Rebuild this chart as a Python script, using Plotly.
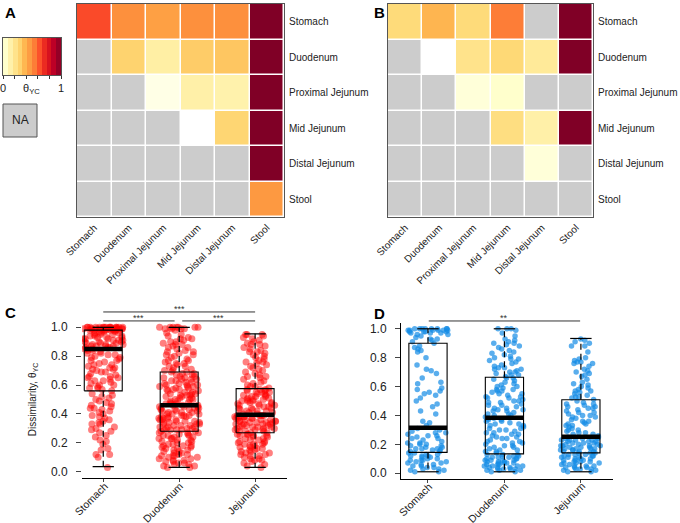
import plotly.graph_objects as go

FONT = "Liberation Sans, Arial, sans-serif"
W, H = 680, 523

regions = ["Stomach", "Duodenum", "Proximal Jejunum", "Mid Jejunum", "Distal Jejunum", "Stool"]
groups = ["Stomach", "Duodenum", "Jejunum"]
N = None

theta_A = [
    [0.64, 0.50, 0.45, 0.50, 0.50, 1.00],
    [N, 0.29, 0.14, 0.31, 0.33, 1.00],
    [N, N, 0.02, 0.13, 0.12, 1.00],
    [N, N, N, 0.00, 0.28, 1.00],
    [N, N, N, N, N, 1.00],
    [N, N, N, N, N, 0.47],
]
theta_B = [
    [0.26, 0.38, 0.26, 0.54, N, 1.00],
    [N, 0.00, 0.21, 0.27, 0.17, 1.00],
    [N, N, 0.03, 0.04, N, N],
    [N, N, N, 0.24, 0.13, 1.00],
    [N, N, N, N, 0.03, N],
    [N, N, N, N, N, N],
]

# colour key bands
key_edges = [0, 0.083, 0.167, 0.25, 0.333, 0.417, 0.5, 0.583, 0.667, 0.75, 0.833, 0.917, 1.0]
key_levels = [0.04, 0.125, 0.21, 0.29, 0.375, 0.46, 0.54, 0.625, 0.71, 0.79, 0.875, 0.96]

# box statistics (Stomach, Duodenum, Jejunum)
C_q1 = [0.56, 0.28, 0.27]
C_med = [0.85, 0.46, 0.395]
C_q3 = [0.98, 0.69, 0.575]
C_lo = [0.035, 0.03, 0.03]
C_hi = [1.00, 1.00, 0.955]

D_q1 = [0.144, 0.134, 0.141]
D_med = [0.315, 0.384, 0.252]
D_q3 = [0.90, 0.664, 0.509]
D_lo = [0.01, 0.01, 0.01]
D_hi = [1.00, 1.00, 0.933]

C_stomach = [1.00, 0.99, 0.98, 1.00, 0.97, 0.99, 1.00, 0.98, 0.99, 1.00, 0.99, 0.97, 1.00, 0.98, 1.00, 0.99, 0.99, 1.00, 0.98, 0.99,
             1.00, 0.98, 0.99, 1.00, 0.99, 0.98, 1.00, 0.99, 1.00, 0.97, 0.99, 1.00, 0.98, 0.99, 1.00, 0.99, 0.98, 1.00, 0.99, 1.00,
             0.96, 0.93, 0.88, 0.91, 0.85, 0.94, 0.87, 0.90, 0.95, 0.86, 0.92, 0.89, 0.96, 0.84, 0.93, 0.87, 0.91, 0.85, 0.88, 0.94,
             0.86, 0.90, 0.95, 0.83, 0.92, 0.89, 0.87, 0.93, 0.85, 0.96, 0.91, 0.86, 0.88, 0.94, 0.90, 0.84, 0.92, 0.87, 0.95, 0.89,
             0.81, 0.74, 0.66, 0.79, 0.58, 0.71, 0.63, 0.77, 0.69, 0.60, 0.82, 0.73, 0.65, 0.57, 0.76, 0.68, 0.80, 0.62, 0.72, 0.59,
             0.78, 0.64, 0.70, 0.56, 0.75, 0.67, 0.81, 0.61, 0.74, 0.69, 0.58, 0.77, 0.63, 0.72, 0.66, 0.79, 0.60, 0.71, 0.82, 0.65,
             0.54, 0.47, 0.39, 0.51, 0.33, 0.44, 0.28, 0.49, 0.36, 0.42, 0.25, 0.53, 0.31, 0.46, 0.38, 0.22, 0.50, 0.35, 0.41, 0.29,
             0.45, 0.19, 0.37, 0.52, 0.27, 0.43, 0.33, 0.48, 0.24, 0.40, 0.16, 0.34, 0.12, 0.21, 0.30, 0.10, 0.15, 0.12, 0.44, 0.03]
C_duodenum = [1.00, 0.99, 1.00, 1.00, 0.99, 1.00, 0.98, 1.00, 0.99, 1.00, 1.00, 0.99,
              0.94, 0.88, 0.81, 0.73, 0.91, 0.85, 0.77, 0.70, 0.96, 0.83, 0.79, 0.92, 0.74, 0.87, 0.71, 0.90, 0.82, 0.76,
              0.93, 0.86, 0.72, 0.80, 0.89, 0.75, 0.84, 0.95, 0.78, 0.69, 0.88, 0.81, 0.92, 0.73, 0.86, 0.77, 0.83, 0.70, 0.90, 0.75,
              0.68, 0.61, 0.54, 0.47, 0.66, 0.59, 0.52, 0.64, 0.57, 0.50, 0.67, 0.60, 0.53, 0.48, 0.63, 0.56, 0.49, 0.65, 0.58, 0.51,
              0.62, 0.55, 0.47, 0.69, 0.60, 0.53, 0.46, 0.66, 0.59, 0.52, 0.64, 0.57, 0.49, 0.61, 0.54, 0.68, 0.58, 0.50, 0.63, 0.55,
              0.47, 0.65, 0.56, 0.51, 0.62, 0.48, 0.67, 0.59, 0.53, 0.46, 0.60, 0.54, 0.64, 0.50, 0.57,
              0.45, 0.39, 0.33, 0.29, 0.43, 0.37, 0.31, 0.44, 0.36, 0.30, 0.42, 0.35, 0.28, 0.40, 0.34, 0.45, 0.38, 0.32, 0.41, 0.29,
              0.36, 0.44, 0.31, 0.39, 0.33, 0.43, 0.30, 0.37, 0.42, 0.35, 0.28, 0.40, 0.34, 0.45, 0.32, 0.38, 0.29, 0.41, 0.36, 0.44,
              0.31, 0.39, 0.33, 0.43, 0.30, 0.37, 0.42, 0.35, 0.40, 0.34, 0.38, 0.32, 0.41, 0.46, 0.29,
              0.27, 0.21, 0.14, 0.08, 0.25, 0.18, 0.11, 0.05, 0.23, 0.16, 0.09, 0.26, 0.19, 0.12, 0.04, 0.22, 0.15, 0.07, 0.24, 0.17,
              0.10, 0.27, 0.20, 0.13, 0.06, 0.23, 0.16, 0.09, 0.25, 0.18, 0.11, 0.03, 0.21, 0.14, 0.07, 0.26, 0.19, 0.12, 0.05, 0.22,
              0.15, 0.08, 0.24, 0.17, 0.10, 0.27, 0.20, 0.13, 0.04, 0.23, 0.06, 0.18, 0.11, 0.25, 0.03]
C_jejunum = [0.95, 0.91, 0.86, 0.80, 0.74, 0.68, 0.62, 0.94, 0.88, 0.83, 0.77, 0.71, 0.65, 0.59, 0.93, 0.87, 0.81, 0.75, 0.69, 0.63,
             0.58, 0.90, 0.84, 0.78, 0.72, 0.66, 0.60, 0.95, 0.89, 0.82, 0.76, 0.70, 0.64, 0.92, 0.85, 0.79, 0.73, 0.67, 0.61, 0.95,
             0.88, 0.76, 0.66, 0.59, 0.83,
             0.57, 0.52, 0.47, 0.42, 0.55, 0.50, 0.45, 0.40, 0.56, 0.51, 0.46, 0.41, 0.54, 0.49, 0.44, 0.53, 0.48, 0.43, 0.57, 0.50,
             0.46, 0.41, 0.55, 0.52, 0.47, 0.42, 0.56, 0.49, 0.44, 0.40, 0.54, 0.51, 0.45, 0.53, 0.48, 0.43, 0.57, 0.50, 0.46, 0.42,
             0.55, 0.47, 0.52, 0.44, 0.49,
             0.39, 0.35, 0.31, 0.28, 0.38, 0.34, 0.30, 0.37, 0.33, 0.29, 0.39, 0.36, 0.32, 0.28, 0.38, 0.35, 0.31, 0.27, 0.37, 0.34,
             0.30, 0.39, 0.33, 0.29, 0.36, 0.32, 0.38, 0.35, 0.31, 0.28, 0.37, 0.34, 0.30, 0.39, 0.33, 0.36, 0.29, 0.32, 0.38, 0.35,
             0.31, 0.37, 0.34, 0.27, 0.33,
             0.26, 0.21, 0.15, 0.09, 0.24, 0.18, 0.12, 0.05, 0.25, 0.19, 0.13, 0.07, 0.23, 0.17, 0.11, 0.26, 0.20, 0.14, 0.08, 0.22,
             0.16, 0.10, 0.04, 0.25, 0.19, 0.13, 0.24, 0.18, 0.12, 0.06, 0.21, 0.15, 0.09, 0.26, 0.20, 0.23, 0.17, 0.11, 0.03, 0.22,
             0.14, 0.25, 0.19, 0.16, 0.08]

D_stomach = [1.00, 0.99, 1.00, 0.98, 1.00, 0.99, 0.97, 1.00, 0.99, 0.98, 1.00, 0.96, 0.99, 1.00, 0.95, 0.98, 0.93, 1.00, 0.97, 0.99,
             0.91, 0.94, 0.98, 0.92, 1.00, 0.96, 0.90, 0.99, 0.93, 0.97,
             0.88, 0.86, 0.84, 0.80, 0.75, 0.71, 0.72, 0.66, 0.63, 0.62, 0.59, 0.57, 0.56, 0.55, 0.54, 0.52, 0.50, 0.48, 0.43, 0.41,
             0.36, 0.35, 0.33, 0.87, 0.69, 0.58, 0.46, 0.85,
             0.31, 0.29, 0.28, 0.26, 0.25, 0.24, 0.22, 0.21, 0.20, 0.19, 0.18, 0.17, 0.17, 0.16, 0.15, 0.30, 0.27, 0.23, 0.19, 0.18,
             0.16, 0.15, 0.26, 0.21, 0.17, 0.24, 0.20, 0.28,
             0.14, 0.13, 0.12, 0.12, 0.11, 0.10, 0.09, 0.09, 0.08, 0.07, 0.06, 0.05, 0.05, 0.04, 0.03, 0.02, 0.01, 0.13, 0.11, 0.10,
             0.08, 0.06, 0.04, 0.02, 0.12, 0.07, 0.03, 0.14, 0.09, 0.01]
D_duodenum = [1.00, 1.00, 0.99, 1.00, 0.97, 0.93, 0.91, 0.92, 0.90, 0.89, 0.88, 0.86, 0.84, 0.82, 0.81, 0.80, 0.79, 0.78, 0.76, 0.74,
              0.73, 0.72, 0.72, 0.71, 0.70, 0.69, 0.68, 0.67, 0.85, 0.77, 0.75, 0.70, 0.83, 0.66, 0.90, 0.73, 0.79, 0.68, 0.95, 0.87,
              0.66, 0.65, 0.64, 0.62, 0.61, 0.60, 0.59, 0.58, 0.57, 0.56, 0.55, 0.54, 0.53, 0.52, 0.51, 0.50, 0.49, 0.48, 0.47, 0.46,
              0.45, 0.44, 0.43, 0.42, 0.41, 0.40, 0.39, 0.63, 0.58, 0.55, 0.52, 0.50, 0.47, 0.45, 0.43, 0.41, 0.60, 0.49, 0.44, 0.40,
              0.53, 0.57,
              0.38, 0.37, 0.36, 0.35, 0.34, 0.33, 0.32, 0.31, 0.30, 0.29, 0.28, 0.27, 0.26, 0.25, 0.24, 0.23, 0.22, 0.21, 0.20, 0.19,
              0.18, 0.17, 0.16, 0.15, 0.14, 0.37, 0.34, 0.31, 0.28, 0.25, 0.22, 0.19, 0.16, 0.36, 0.30, 0.24, 0.18, 0.33, 0.27, 0.21,
              0.15, 0.38,
              0.13, 0.12, 0.12, 0.11, 0.10, 0.10, 0.09, 0.09, 0.08, 0.08, 0.07, 0.07, 0.06, 0.06, 0.05, 0.05, 0.04, 0.04, 0.03, 0.03,
              0.02, 0.02, 0.01, 0.13, 0.11, 0.09, 0.07, 0.05, 0.03, 0.01, 0.12, 0.10, 0.08, 0.06, 0.04, 0.02, 0.11, 0.07, 0.03, 0.09,
              0.05, 0.13]
D_jejunum = [0.93, 0.92, 0.91, 0.88, 0.88, 0.84, 0.80, 0.79, 0.77, 0.77, 0.76, 0.76, 0.74, 0.72, 0.70, 0.69, 0.67, 0.65, 0.63, 0.61,
             0.60, 0.59, 0.58, 0.57, 0.56, 0.55, 0.54, 0.53, 0.52, 0.51, 0.90, 0.78, 0.68, 0.62, 0.57, 0.53, 0.71,
             0.50, 0.49, 0.48, 0.47, 0.46, 0.45, 0.44, 0.43, 0.42, 0.41, 0.40, 0.39, 0.38, 0.37, 0.36, 0.35, 0.34, 0.33, 0.32, 0.31,
             0.30, 0.29, 0.28, 0.27, 0.26, 0.48, 0.45, 0.42, 0.39, 0.36, 0.33, 0.30, 0.27, 0.46, 0.40, 0.34, 0.28,
             0.25, 0.24, 0.24, 0.23, 0.23, 0.22, 0.22, 0.21, 0.21, 0.20, 0.20, 0.19, 0.19, 0.18, 0.18, 0.17, 0.17, 0.16, 0.16, 0.15,
             0.15, 0.14, 0.25, 0.23, 0.21, 0.19, 0.17, 0.15, 0.24, 0.22, 0.20, 0.18, 0.16, 0.14, 0.23, 0.19, 0.17,
             0.14, 0.13, 0.13, 0.12, 0.12, 0.11, 0.11, 0.10, 0.10, 0.09, 0.09, 0.08, 0.08, 0.07, 0.07, 0.06, 0.06, 0.05, 0.05, 0.04,
             0.04, 0.03, 0.03, 0.02, 0.02, 0.01, 0.13, 0.11, 0.09, 0.07, 0.05, 0.03, 0.01, 0.12, 0.08, 0.04, 0.10]

C_points = [C_stomach, C_duodenum, C_jejunum]
D_points = [D_stomach, D_duodenum, D_jejunum]

# significance comparisons: (from group, to group, label, bar level)
sig_C = [(1, 3, "***", 1.106), (1, 1.94, "***", 1.044), (2.04, 3, "***", 1.044)]
sig_D = [(1.01, 2.99, "**", 1.054)]

colorscale = [[0.0, "#ffffff"], [0.04, "#ffffcc"], [0.15, "#ffeda0"], [0.27, "#fed976"],
              [0.39, "#feb24c"], [0.51, "#fd8d3c"], [0.63, "#fc4e2a"], [0.75, "#e31a1c"],
              [0.875, "#bd0026"], [1.0, "#800026"]]

def px_x(a, b):
    return [a / W, b / W]

def px_y(top, bottom):
    return [1 - bottom / H, 1 - top / H]

domA_x, domB_x = px_x(77, 284), px_x(388, 593)
domAB_y = px_y(4, 217)
C_xdom, C_ydom, C_xr = px_x(82, 287), px_y(321.5, 477.5), [0.72, 3.42]
D_xdom, D_ydom, D_xr = px_x(401, 613), px_y(323, 479), [0.647, 3.42]
K_xdom, K_ydom = px_x(3, 61), px_y(38, 75)
YR = [-0.04, 1.04]

fig = go.Figure()

def na_mask(z):
    return [[1 if v is None else None for v in row] for row in z]

for z, xa, ya in [(theta_A, "x", "y"), (theta_B, "x2", "y2")]:
    fig.add_trace(go.Heatmap(z=na_mask(z), x=regions, y=regions, xaxis=xa, yaxis=ya,
                             colorscale=[[0, "#cccccc"], [1, "#cccccc"]], showscale=False,
                             xgap=1.5, ygap=1.5, hoverinfo="skip"))
    fig.add_trace(go.Heatmap(z=z, x=regions, y=regions, xaxis=xa, yaxis=ya, colorscale=colorscale,
                             zmin=0, zmax=1, xgap=1.5, ygap=1.5, showscale=False))

# colour key
fig.add_trace(go.Heatmap(z=[key_levels], x=key_edges, y=[0, 1], xaxis="x5", yaxis="y5",
                         colorscale=colorscale, zmin=0, zmax=1, showscale=False, hoverinfo="skip"))

def add_boxes(xa, ya, pts, q1, med, q3, lo, hi, color, size):
    pos = [1, 2, 3]
    for p, vals in zip(pos, pts):
        fig.add_trace(go.Box(y=vals, x0=p, xaxis=xa, yaxis=ya, boxpoints="all", jitter=1, pointpos=0,
                             width=0.54, marker=dict(color=color, size=size, line=dict(width=0)),
                             line=dict(width=0, color="rgba(0,0,0,0)"), fillcolor="rgba(0,0,0,0)",
                             whiskerwidth=0, hoverinfo="skip", showlegend=False))
    hw, cw = 0.25, 0.14
    wx, wy, cx, cy, rx, ry, mx, my = [], [], [], [], [], [], [], []
    for i, c in enumerate(pos):
        wx += [c, c, None, c, c, None]
        wy += [q3[i], hi[i], None, q1[i], lo[i], None]
        cx += [c - cw, c + cw, None, c - cw, c + cw, None]
        cy += [hi[i], hi[i], None, lo[i], lo[i], None]
        rx += [c - hw, c + hw, c + hw, c - hw, c - hw, None]
        ry += [q1[i], q1[i], q3[i], q3[i], q1[i], None]
        mx += [c - hw, c + hw, None]
        my += [med[i], med[i], None]
    common = dict(xaxis=xa, yaxis=ya, mode="lines", hoverinfo="skip", showlegend=False)
    fig.add_trace(go.Scatter(x=wx, y=wy, line=dict(color="black", width=1.2, dash="6px,4px"), **common))
    fig.add_trace(go.Scatter(x=cx, y=cy, line=dict(color="black", width=1.2), **common))
    fig.add_trace(go.Scatter(x=rx, y=ry, line=dict(color="black", width=1.1), **common))
    fig.add_trace(go.Scatter(x=mx, y=my, line=dict(color="black", width=4.5), **common))

add_boxes("x3", "y3", C_points, C_q1, C_med, C_q3, C_lo, C_hi, "rgba(255,0,0,0.5)", 7)
add_boxes("x4", "y4", D_points, D_q1, D_med, D_q3, D_lo, D_hi, "rgba(20,140,230,0.7)", 5.5)

def to_paper(v, dom, rng):
    return dom[0] + (v - rng[0]) / (rng[1] - rng[0]) * (dom[1] - dom[0])

def note(x, y, text, size, color="#222222", xanchor="center", yanchor="middle", yshift=0, **kw):
    d = dict(xref="paper", yref="paper", x=x, y=y, text=text, showarrow=False,
             xanchor=xanchor, yanchor=yanchor, yshift=yshift,
             font=dict(size=size, color=color, family=FONT))
    d.update(kw)
    return d

shapes, annotations = [], []
for sigs, xd, xr, yd in [(sig_C, C_xdom, C_xr, C_ydom), (sig_D, D_xdom, D_xr, D_ydom)]:
    for a, b, lab, lev in sigs:
        x0, x1 = to_paper(a, xd, xr), to_paper(b, xd, xr)
        yy = to_paper(lev, yd, YR)
        shapes.append(dict(type="line", xref="paper", yref="paper", x0=x0, x1=x1, y0=yy, y1=yy,
                           line=dict(color="#333333", width=1)))
        annotations.append(note((x0 + x1) / 2, yy, lab, 9, "#333333", yanchor="bottom", yshift=-4))

# rotated group labels under panels C and D
for xa in ["x3", "x4"]:
    for i, g in enumerate(groups):
        annotations.append(note(i + 1, 1 - 478 / H, g, 10.5, xanchor="right", yanchor="top",
                                xref=xa, textangle=-45, xshift=8, borderpad=0))

# NA legend box and key labels
shapes.append(dict(type="rect", xref="paper", yref="paper", x0=3 / W, x1=37 / W, y0=1 - 137 / H, y1=1 - 104 / H,
                   fillcolor="#cccccc", line=dict(color="#555555", width=1)))
annotations.append(note(20 / W, 1 - 120.5 / H, "NA", 12))
annotations.append(note(31 / W, 1 - 89 / H, "θ<sub>YC</sub>", 11))
annotations.append(note(K_xdom[0], 1 - 88 / H, "0", 11))
annotations.append(note(K_xdom[1], 1 - 88 / H, "1", 11))

for lab, x, y in [("A", 3, 2), ("B", 372, 2), ("C", 3, 302), ("D", 372, 303)]:
    annotations.append(note(x / W, 1 - y / H, "<b>%s</b>" % lab, 15, "black", xanchor="left", yanchor="top"))

hm_x = dict(type="category", tickangle=-45, ticks="", showline=True, mirror=True, linecolor="#555555",
            linewidth=1, showgrid=False, zeroline=False, automargin=False,
            tickfont=dict(size=10, color="#222222", family=FONT))
hm_y = dict(type="category", side="right", autorange="reversed", ticks="", showline=True, mirror=True,
            linecolor="#555555", linewidth=1, showgrid=False, zeroline=False, ticklabelstandoff=2,
            automargin=False, tickfont=dict(size=10, color="#222222", family=FONT))

box_x = dict(tickvals=[1, 2, 3], showticklabels=False, ticks="outside", ticklen=3,
             showline=True, linecolor="black", linewidth=1, showgrid=False, zeroline=False, automargin=False)
box_y = dict(range=YR, tickvals=[0, 0.2, 0.4, 0.6, 0.8, 1.0], ticktext=["0.0", "0.2", "0.4", "0.6", "0.8", "1.0"],
             ticks="outside", ticklen=5, showgrid=False, zeroline=False, linecolor="black", linewidth=1,
             ticklabelstandoff=6, automargin=False, tickfont=dict(size=12, color="#222222", family=FONT))

fig.update_layout(
    width=W, height=H, margin=dict(l=0, r=0, t=0, b=0, autoexpand=False),
    paper_bgcolor="white", plot_bgcolor="white", showlegend=False, boxmode="overlay",
    font=dict(family=FONT, color="#222222"),
    xaxis=dict(domain=domA_x, anchor="y", **hm_x),
    yaxis=dict(domain=domAB_y, anchor="x", **hm_y),
    xaxis2=dict(domain=domB_x, anchor="y2", **hm_x),
    yaxis2=dict(domain=domAB_y, anchor="x2", **hm_y),
    xaxis3=dict(domain=C_xdom, anchor="y3", range=C_xr, **box_x),
    yaxis3=dict(domain=C_ydom, anchor="x3", showline=False,
                title=dict(text="Dissimilarity, θ<sub>YC</sub>", standoff=12,
                           font=dict(size=10, color="#222222", family=FONT)), **box_y),
    xaxis4=dict(domain=D_xdom, anchor="y4", range=D_xr, **box_x),
    yaxis4=dict(domain=D_ydom, anchor="x4", showline=True, **box_y),
    xaxis5=dict(domain=K_xdom, anchor="y5", range=[0, 1], tickvals=[0, 0.2, 0.4, 0.6, 0.8, 1],
                showticklabels=False, ticks="outside", ticklen=3, tickcolor="#333333", showline=True,
                mirror=True, linecolor="#555555", linewidth=1, showgrid=False, zeroline=False, automargin=False),
    yaxis5=dict(domain=K_ydom, anchor="x5", range=[0, 1], showticklabels=False, ticks="", showline=True,
                mirror=True, linecolor="#555555", linewidth=1, showgrid=False, zeroline=False, automargin=False),
    shapes=shapes, annotations=annotations,
)

fig.write_html("out.html", config={"displayModeBar": False},
               post_script="document.body.style.margin='0';")
